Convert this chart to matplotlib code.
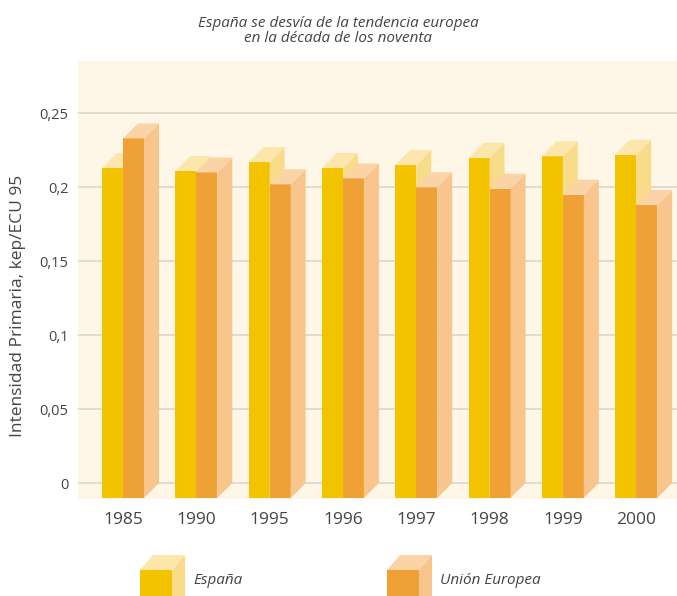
import matplotlib.pyplot as plt
from matplotlib.patches import Polygon
import numpy as np

plt.rcParams['font.family'] = ['Open Sans', 'DejaVu Sans']

years = ["1985", "1990", "1995", "1996", "1997", "1998", "1999", "2000"]
espana = [0.223, 0.221, 0.227, 0.223, 0.225, 0.230, 0.231, 0.232]
union_europea = [0.243, 0.220, 0.212, 0.216, 0.210, 0.209, 0.205, 0.198]
y_ticks = [0, 0.05, 0.1, 0.15, 0.2, 0.25]
y_labels = ["0", "0,05", "0,1", "0,15", "0,2", "0,25"]

W, H = 677, 596
fig = plt.figure(figsize=(W / 100, H / 100), dpi=100)

# axes box in pixels
left, right, top, bottom = 78, 677, 61, 498.5
ax = fig.add_axes([left / W, (H - bottom) / H, (right - left) / W, (bottom - top) / H])
xlim = (-0.8186, 7.353)
ylim = (-0.01047, 0.2852)
ax.set_xlim(*xlim)
ax.set_ylim(*ylim)
ax.set_facecolor('#FEF6E7')
for s in ax.spines.values():
    s.set_visible(False)

sx = (right - left) / (xlim[1] - xlim[0])   # px per x unit
sy = (bottom - top) / (ylim[1] - ylim[0])   # px per y unit
ddx, ddy = 15 / sx, 15 / sy                 # 3d depth
w = 21 / sx

col_es = ('#F3C300', '#F9DC8A', '#FCE6AC')   # front, side, top
col_ue = ('#EFA135', '#F8C58C', '#FAD3A6')

x = np.arange(len(years))


def bars3d(xs, vals, cols, z):
    fl = xs - ddx
    ax.bar(fl, vals, w, bottom=-ddy, align='edge', color=cols[0], zorder=z, lw=0)
    for f, v in zip(fl, vals):
        side = [(f + w, -ddy), (f + w + ddx, 0), (f + w + ddx, v), (f + w, v - ddy)]
        topf = [(f, v - ddy), (f + w, v - ddy), (f + w + ddx, v), (f + ddx, v)]
        ax.add_patch(Polygon(side, closed=True, color=cols[1], lw=0, zorder=z))
        ax.add_patch(Polygon(topf, closed=True, color=cols[2], lw=0, zorder=z))


bars3d(x - w, espana, col_es, 3)
bars3d(x, union_europea, col_ue, 4)

ax.set_yticks(y_ticks)
ax.set_yticklabels(y_labels)
ax.yaxis.grid(True, color='#DDD6CB', lw=1.2)
ax.set_axisbelow(True)
ax.tick_params(axis='y', length=0, pad=7, labelsize=10.5, labelcolor='#444444')

ax.set_xticks(x - ddx)
ax.set_xticklabels(years)
ax.tick_params(axis='x', length=0, pad=10, labelsize=12.5, labelcolor='#444444')

fig.text(0.5, 1 - 31 / H, "España se desvía de la tendencia europea\nen la década de los noventa",
         ha='center', va='center', fontsize=11, style='italic', color='#444444', linespacing=0.95)
fig.text(18 / W, 1 - 306 / H, "Intensidad Primaria, kep/ECU 95", rotation=90,
         ha='center', va='center', fontsize=12.5, color='#444444')


# legend cubes, drawn in pixel positions
def cube(x0, cols, label):
    y0, y1, d, e = 570, 600, 13, 15
    x1 = x0 + 32
    pts = lambda p: [(a / W, 1 - b / H) for a, b in p]
    fig.add_artist(Polygon(pts([(x0, y0), (x1, y0), (x1, y1), (x0, y1)]), color=cols[0], lw=0))
    fig.add_artist(Polygon(pts([(x1, y0), (x1 + d, y0 - e), (x1 + d, y1), (x1, y1)]), color=cols[1], lw=0))
    fig.add_artist(Polygon(pts([(x0, y0), (x1, y0), (x1 + d, y0 - e), (x0 + d, y0 - e)]), color=cols[2], lw=0))
    fig.text((x1 + d + 8) / W, 1 - 580 / H, label, ha='left', va='center',
             fontsize=11, style='italic', color='#444444')


cube(140, col_es, "España")
cube(387, col_ue, "Unión Europea")

fig.savefig('out.png', dpi=100, facecolor='white')
